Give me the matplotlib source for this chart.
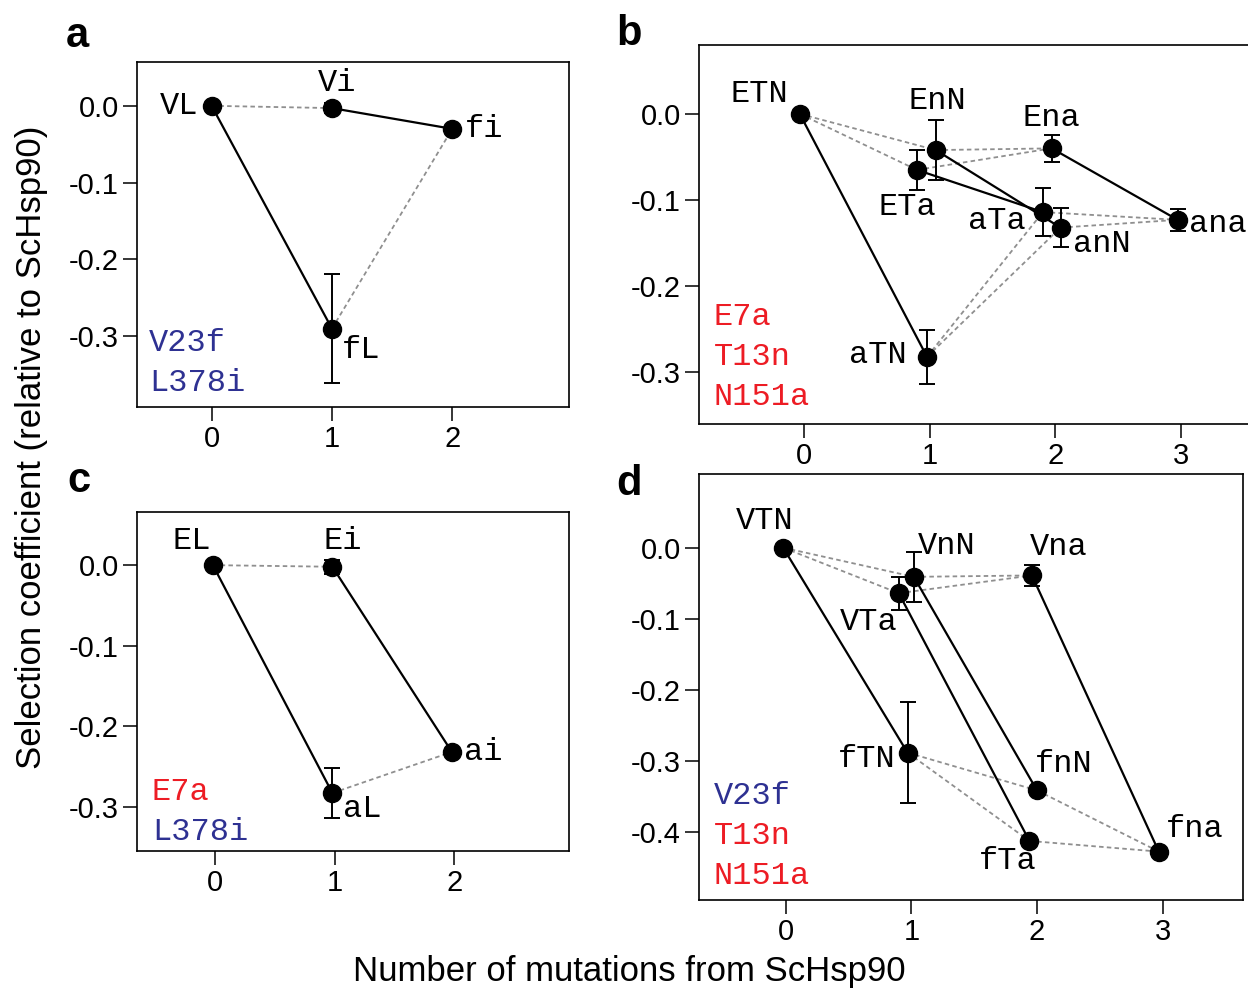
import matplotlib
matplotlib.use('Agg')
import matplotlib.pyplot as plt

plt.rcParams['axes.unicode_minus'] = False
plt.rcParams['font.family'] = ['Liberation Sans', 'DejaVu Sans']

BLUE = '#2e3192'
RED = '#ed1c24'
MONO = 'Liberation Mono'

# panel a: V23f / L378i
a_names = ['VL', 'Vi', 'fi', 'fL']
a_x = [0, 1, 2, 1]
a_y = [0.0, -0.003, -0.030, -0.290]
a_err = [0, 0.007, 0, 0.071]
a_solid = [('VL', 'fL'), ('Vi', 'fi')]
a_dashed = [('VL', 'Vi'), ('fL', 'fi')]
a_muts = [('V23f', BLUE), ('L378i', BLUE)]

# panel b: E7a / T13n / N151a
b_names = ['ETN', 'ETa', 'EnN', 'aTN', 'Ena', 'aTa', 'anN', 'ana']
b_x = [-0.03, 0.9, 1.05, 0.98, 1.97, 1.9, 2.04, 2.97]
b_y = [0.0, -0.065, -0.042, -0.282, -0.040, -0.114, -0.132, -0.123]
b_err = [0, 0.023, 0.035, 0.031, 0.016, 0.028, 0.023, 0.013]
b_solid = [('ETN', 'aTN'), ('ETa', 'aTa'), ('EnN', 'anN'), ('Ena', 'ana')]
b_dashed = [('ETN', 'ETa'), ('ETN', 'EnN'), ('ETa', 'Ena'), ('EnN', 'Ena'),
            ('aTN', 'aTa'), ('aTN', 'anN'), ('aTa', 'ana'), ('anN', 'ana')]
b_muts = [('E7a', RED), ('T13n', RED), ('N151a', RED)]

# panel c: E7a / L378i
c_names = ['EL', 'Ei', 'ai', 'aL']
c_x = [-0.02, 0.98, 1.98, 0.98]
c_y = [0.0, -0.002, -0.232, -0.283]
c_err = [0, 0.009, 0, 0.031]
c_solid = [('EL', 'aL'), ('Ei', 'ai')]
c_dashed = [('EL', 'Ei'), ('aL', 'ai')]
c_muts = [('E7a', RED), ('L378i', BLUE)]

# panel d: V23f / T13n / N151a
d_names = ['VTN', 'VTa', 'VnN', 'fTN', 'Vna', 'fTa', 'fnN', 'fna']
d_x = [-0.02, 0.9, 1.02, 0.97, 1.96, 1.94, 2.0, 2.97]
d_y = [0.0, -0.064, -0.041, -0.288, -0.039, -0.412, -0.341, -0.427]
d_err = [0, 0.023, 0.035, 0.071, 0.015, 0, 0, 0]
d_solid = [('VTN', 'fTN'), ('VTa', 'fTa'), ('VnN', 'fnN'), ('Vna', 'fna')]
d_dashed = [('VTN', 'VTa'), ('VTN', 'VnN'), ('VTa', 'Vna'), ('VnN', 'Vna'),
            ('fTN', 'fTa'), ('fTN', 'fnN'), ('fTa', 'fna'), ('fnN', 'fna')]
d_muts = [('V23f', BLUE), ('T13n', RED), ('N151a', RED)]

# label placement (pixels from the point, horizontal alignment)
offs = {
    'VL': (-13, 0, 'right'), 'Vi': (5, 25, 'center'), 'fi': (13, 0, 'left'), 'fL': (10, -21, 'left'),
    'ETN': (-12, 20, 'right'), 'EnN': (2, 49, 'center'), 'Ena': (0, 30, 'center'),
    'ETa': (-10, -37, 'center'), 'aTa': (-17, -9, 'right'), 'anN': (12, -16, 'left'),
    'ana': (11, -4, 'left'), 'aTN': (-20, 2, 'right'),
    'EL': (-21, 24, 'center'), 'Ei': (10, 26, 'center'), 'ai': (12, 0, 'left'), 'aL': (11, -16, 'left'),
    'VTN': (-18, 27, 'center'), 'VnN': (4, 31, 'left'), 'Vna': (-2, 28, 'left'),
    'VTa': (-1, -29, 'right'), 'fTN': (-12, -6, 'right'), 'fnN': (-2, 26, 'left'),
    'fTa': (7, -20, 'right'), 'fna': (7, 23, 'left'),
}

W, H = 1248, 989
fig = plt.figure(figsize=(W / 100, H / 100), dpi=100)


def box(l, t, r, b):
    return [l / W, 1 - b / H, (r - l) / W, (b - t) / H]


def draw_panel(ax, names, xs, ys, errs, solid, dashed, muts, xlim, ylim, xticks, yticks, mut_base):
    pos = {n: (x, y) for n, x, y in zip(names, xs, ys)}
    for p, q in dashed:
        ax.plot([pos[p][0], pos[q][0]], [pos[p][1], pos[q][1]], color='#8f8f8f',
                lw=1.3, dashes=(2.5, 1.8), zorder=1)
    for p, q in solid:
        ax.plot([pos[p][0], pos[q][0]], [pos[p][1], pos[q][1]], color='black', lw=1.6, zorder=2)
    for x, y, e in zip(xs, ys, errs):
        if e > 0:
            ax.errorbar(x, y, yerr=e, fmt='none', ecolor='black', elinewidth=1.4,
                        capsize=5.7, capthick=1.4, zorder=3)
    ax.plot(xs, ys, 'o', color='black', ms=13, ls='none', zorder=4)
    for n, x, y in zip(names, xs, ys):
        dx, dy, ha = offs[n]
        ax.annotate(n, (x, y), xytext=(dx, dy), textcoords='offset pixels', ha=ha,
                    va='center', fontsize=23, family=MONO, zorder=5)
    nm = len(muts)
    for i, (txt, col) in enumerate(muts):
        ax.annotate(txt, (0, 0), xycoords='axes fraction',
                    xytext=(mut_base[0], mut_base[1] + 40 * (nm - 1 - i)),
                    textcoords='offset pixels', ha='left', va='center',
                    fontsize=23, family=MONO, color=col)
    ax.set_xlim(xlim)
    ax.set_ylim(ylim)
    ax.set_xticks(xticks)
    ax.set_yticks(yticks)
    ax.set_yticklabels(['%.1f' % v for v in yticks])
    ax.tick_params(direction='out', length=10, width=1.1, labelsize=21, pad=3)
    for s in ax.spines.values():
        s.set_linewidth(1.2)


ax_a = fig.add_axes(box(137, 62, 569, 407))
draw_panel(ax_a, a_names, a_x, a_y, a_err, a_solid, a_dashed, a_muts,
           (-0.62, 2.97), (-0.392, 0.057), [0, 1, 2], [0.0, -0.1, -0.2, -0.3], (12, 24))

ax_b = fig.add_axes(box(699, 45, 1252, 424))
draw_panel(ax_b, b_names, b_x, b_y, b_err, b_solid, b_dashed, b_muts,
           (-0.83, 3.56), (-0.36, 0.080), [0, 1, 2, 3], [0.0, -0.1, -0.2, -0.3], (15, 27))

ax_c = fig.add_axes(box(137, 512, 569, 851))
draw_panel(ax_c, c_names, c_x, c_y, c_err, c_solid, c_dashed, c_muts,
           (-0.655, 2.96), (-0.355, 0.066), [0, 1, 2], [0.0, -0.1, -0.2, -0.3], (15, 19))

ax_d = fig.add_axes(box(699, 474, 1243, 900))
draw_panel(ax_d, d_names, d_x, d_y, d_err, d_solid, d_dashed, d_muts,
           (-0.69, 3.64), (-0.495, 0.1035), [0, 1, 2, 3], [0.0, -0.1, -0.2, -0.3, -0.4], (15, 24))

for lab, px, py in [('a', 66, 47), ('b', 616, 45), ('c', 67, 492), ('d', 616, 495)]:
    fig.text(px / W, 1 - py / H, lab, fontsize=30, fontweight='bold', va='baseline', ha='left')

fig.text(629 / W, 1 - 981 / H, 'Number of mutations from ScHsp90', fontsize=25,
         ha='center', va='baseline')
fig.text(32 / W, 1 - 447 / H, 'Selection coefficient (relative to ScHsp90)', fontsize=25,
         ha='center', va='center', rotation=90)

fig.savefig('out.png', dpi=100)
